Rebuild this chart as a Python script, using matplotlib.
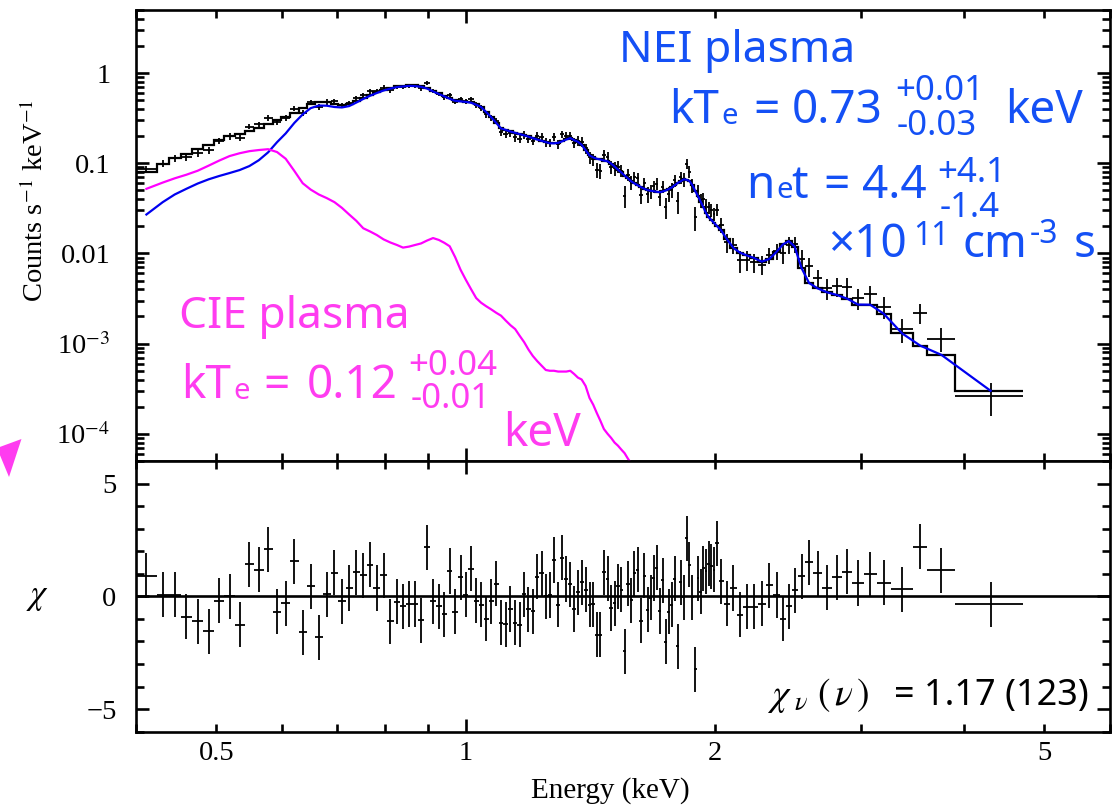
import numpy as np
import matplotlib.pyplot as plt
from matplotlib.ticker import FixedLocator, FixedFormatter, NullFormatter
from matplotlib.patches import Polygon

plt.rcParams['font.family'] = ['Liberation Serif', 'DejaVu Serif']
plt.rcParams['mathtext.fontset'] = 'stix'

# spectral bin edges (keV)
edges = np.array([
    0.400, 0.4235, 0.4382, 0.4527, 0.4674, 0.4822, 0.4969, 0.5115, 0.5262, 0.5410,
    0.5555, 0.5702, 0.5849, 0.5992, 0.6138, 0.6288, 0.6429, 0.6574, 0.6726, 0.6873,
    0.7018, 0.7163, 0.7308, 0.7451, 0.7598, 0.7740, 0.7885, 0.8040, 0.8192, 0.8334,
    0.8474, 0.8617, 0.8762, 0.8911, 0.9060, 0.9212, 0.9358, 0.9497, 0.9640, 0.9789,
    0.9933, 1.0082, 1.0230, 1.0369, 1.0514, 1.0661, 1.0811, 1.0963, 1.1110, 1.1255,
    1.1404, 1.1552, 1.1697, 1.1839, 1.1982, 1.2130, 1.2279, 1.2427, 1.2571, 1.2711,
    1.2861, 1.3012, 1.3157, 1.3305, 1.3454, 1.3597, 1.3735, 1.3883, 1.4039, 1.4190,
    1.4334, 1.4474, 1.4616, 1.4766, 1.4918, 1.5063, 1.5202, 1.5345, 1.5489, 1.5632,
    1.5779, 1.5919, 1.6059, 1.6208, 1.6360, 1.6513, 1.6660, 1.6807, 1.6954, 1.7097,
    1.7240, 1.7385, 1.7531, 1.7677, 1.7824, 1.7975, 1.8118, 1.8263, 1.8417, 1.8564,
    1.8712, 1.8868, 1.9016, 1.9157, 1.9301, 1.9444, 1.9588, 1.9737, 1.9883, 2.0029,
    2.0208, 2.0492, 2.0868, 2.1249, 2.1645, 2.2070, 2.2536, 2.3043, 2.3519, 2.3960,
    2.4383, 2.4751, 2.5183, 2.5713, 2.6267, 2.6945, 2.7732, 2.8492, 2.9299, 3.0252,
    3.1352, 3.26, 3.47, 3.61, 3.90, 4.71,
])

# NEI component folded through the response (counts/s/keV)
nei = np.array([
    0.027, 0.037, 0.045, 0.052, 0.0595, 0.0663, 0.0722, 0.0778, 0.084, 0.093,
    0.108, 0.132, 0.171, 0.214, 0.28, 0.348, 0.408, 0.436, 0.434, 0.42,
    0.415, 0.43, 0.47, 0.516, 0.56, 0.60, 0.64, 0.672, 0.699, 0.71,
    0.72, 0.716, 0.704, 0.672, 0.625, 0.586, 0.55, 0.518, 0.492, 0.485,
    0.478, 0.468, 0.445, 0.42, 0.37, 0.325, 0.28, 0.243, 0.234, 0.2245,
    0.217, 0.21, 0.204, 0.197, 0.19, 0.183, 0.177, 0.171, 0.1665, 0.166,
    0.168, 0.175, 0.183, 0.19, 0.18, 0.173, 0.16, 0.14, 0.122, 0.116,
    0.112, 0.110, 0.107, 0.105, 0.099, 0.092, 0.085, 0.079, 0.073, 0.068,
    0.063, 0.0598, 0.057, 0.0545, 0.052, 0.0504, 0.0495, 0.0488, 0.0482, 0.0477,
    0.0487, 0.050, 0.0518, 0.054, 0.0573, 0.0606, 0.063, 0.0662, 0.0655, 0.0635,
    0.057, 0.049, 0.043, 0.0374, 0.0325, 0.028, 0.0251, 0.0234, 0.0218, 0.0201,
    0.0180, 0.0144, 0.0115, 0.0102, 0.0095, 0.0089, 0.0081, 0.0087, 0.0104, 0.0126,
    0.0137, 0.0119, 0.0069, 0.0047, 0.0041, 0.0037, 0.00345, 0.00315, 0.00271, 0.0027,
    0.00215, 0.0013, 0.00095, 0.00075, 0.0003,
])

# CIE component, only where it is above the plotted range
cie = np.array([
    0.052, 0.061, 0.068, 0.0745, 0.0825, 0.094, 0.107, 0.12, 0.129, 0.136,
    0.140, 0.143, 0.133, 0.112, 0.082, 0.060, 0.051, 0.045, 0.041, 0.037,
    0.032, 0.027, 0.023, 0.019, 0.0175, 0.0160, 0.0143, 0.0132, 0.0124, 0.0116,
    0.0119, 0.0124, 0.0129, 0.0139, 0.0148, 0.0141, 0.0131, 0.012, 0.0091, 0.0066,
    0.0051, 0.0040, 0.0032, 0.00284, 0.0026, 0.0024, 0.0022, 0.00204, 0.0018, 0.0016,
    0.00145, 0.00122, 0.00104, 0.00086, 0.00073, 0.00064, 0.00057, 0.00051, 0.0005, 0.0005,
    0.00049, 0.00049, 0.00049, 0.0005, 0.00046, 0.00042, 0.0004, 0.00034, 0.00025, 0.00021,
    0.00017, 0.00014, 0.000113, 0.0001, 0.00009, 0.00008, 0.000074, 0.000067, 0.000061, 0.000053,
    0.000047, 0.000043, 0.000039, 0.000033,
])

# 1-sigma uncertainty of each bin, as a fraction of the model
rel_err = np.array([
    0.09, 0.09, 0.09, 0.085, 0.085, 0.085, 0.08, 0.08, 0.08, 0.08,
    0.075, 0.075, 0.075, 0.07, 0.07, 0.07, 0.065, 0.065, 0.065, 0.065,
    0.065, 0.06, 0.06, 0.06, 0.058, 0.058, 0.058, 0.055, 0.055, 0.055,
    0.055, 0.055, 0.055, 0.055, 0.058, 0.058, 0.06, 0.06, 0.062, 0.062,
    0.062, 0.065, 0.065, 0.068, 0.07, 0.075, 0.08, 0.085, 0.09, 0.09,
    0.095, 0.095, 0.1, 0.1, 0.1, 0.105, 0.105, 0.11, 0.11, 0.11,
    0.11, 0.11, 0.11, 0.11, 0.115, 0.12, 0.125, 0.13, 0.14, 0.14,
    0.145, 0.145, 0.15, 0.15, 0.155, 0.16, 0.16, 0.165, 0.165, 0.17,
    0.17, 0.17, 0.17, 0.17, 0.175, 0.175, 0.175, 0.175, 0.18, 0.18,
    0.18, 0.17, 0.17, 0.17, 0.17, 0.17, 0.17, 0.17, 0.2, 0.19,
    0.17, 0.15, 0.18, 0.19, 0.2, 0.2, 0.2, 0.21, 0.22, 0.22,
    0.22, 0.22, 0.22, 0.22, 0.22, 0.22, 0.22, 0.22, 0.2, 0.2,
    0.2, 0.22, 0.3, 0.35, 0.3, 0.3, 0.3, 0.33, 0.3, 0.32,
    0.33, 0.33, 0.6, 0.45, 0.35,
])

# residuals (data - model) / sigma
chi = np.array([
    0.91, 0.07, 0.07, -0.91, -1.10, -1.55, -0.19, 0.00, -1.25, 1.42,
    1.18, 2.09, -0.69, -0.30, 1.55, -1.59, 0.44, -1.81, 0.10, 1.05,
    -0.22, 0.37, 1.06, 0.94, 1.40, 0.37, 0.94, -1.10, -0.24, -0.44,
    -0.34, -0.34, -1.06, 2.18, -0.22, -0.44, -0.80, 1.12, -0.69, 0.84,
    0.07, 1.22, -0.19, -0.37, -0.99, -0.22, 0.56, -1.18, -1.24, -0.56,
    -1.18, -1.25, 0.09, -0.58, -0.66, 0.86, 1.02, 0.00, 0.06, 1.61,
    -0.38, 1.71, 0.77, 0.53, -0.56, 0.18, 0.62, 0.29, -0.38, -0.35,
    -1.70, -1.70, 1.06, 0.78, -0.52, -0.30, 0.44, 0.29, -2.43, 0.55,
    -0.18, 1.02, 1.17, -1.08, 0.91, -0.60, -0.06, 0.81, 1.27, -0.65,
    0.71, -2.02, -0.68, -0.37, 0.78, -2.21, 0.62, -0.04, 2.57, 1.40,
    -0.04, -3.23, 0.80, 0.21, 1.25, 1.11, 1.45, 1.34, 1.18, 2.36,
    0.66, -0.32, 0.37, -0.81, -0.46, -0.46, -0.32, 0.49, 0.06, -1.00,
    -0.44, 0.27, 0.88, 1.50, 1.03, 0.38, 0.84, 1.09, 0.59, 0.97,
    0.60, 0.32, 2.20, 1.15, -0.35,
])

lo, hi = edges[:-1], edges[1:]
energy = 0.5 * (lo + hi)
half_width = 0.5 * (hi - lo)

cie_all = np.zeros_like(nei)
cie_all[:len(cie)] = cie
model = nei + cie_all
sigma = rel_err * model
counts = model + chi * sigma

blue_line = '#0000f0'
magenta_line = '#ff00ff'
blue_text = '#1450f5'
magenta_text = '#ff3cf0'
sans = ['Noto Sans', 'DejaVu Sans']

fig = plt.figure(figsize=(11.12, 8.10), dpi=100)
ax1 = fig.add_axes([0.1223, 0.4309, 0.8759, 0.5568])
ax2 = fig.add_axes([0.1223, 0.0967, 0.8759, 0.3342], sharex=ax1)

# ---- spectrum ----
ax1.errorbar(energy, counts, xerr=half_width, yerr=sigma, fmt='none',
             ecolor='black', elinewidth=1.3, capsize=0, zorder=2)
ax1.stairs(model, edges, baseline=None, color='black', lw=1.6, zorder=3)
ax1.plot(energy, nei, color=blue_line, lw=1.6, zorder=4)
ax1.plot(energy[:len(cie)], cie, color=magenta_line, lw=1.6, zorder=4)

ax1.set_xscale('log')
ax1.set_yscale('log')
ax1.set_xlim(0.4, 6.0)
ax1.set_ylim(5e-5, 5)

ax1.yaxis.set_major_locator(FixedLocator([1e-4, 1e-3, 1e-2, 1e-1, 1]))
ax1.yaxis.set_major_formatter(FixedFormatter(['10$^{-4}$', '10$^{-3}$', '0.01', '0.1', '1']))
ax1.yaxis.set_minor_locator(FixedLocator([k * 10.0 ** e for e in range(-5, 1) for k in range(2, 10)]))
ax1.yaxis.set_minor_formatter(NullFormatter())

# ---- residuals ----
ax2.errorbar(energy, chi, xerr=half_width, yerr=1.0, fmt='none',
             ecolor='black', elinewidth=1.3, capsize=0, zorder=2)
ax2.axhline(0, color='black', lw=1.9, zorder=3)
ax2.set_ylim(-6, 6)
ax2.yaxis.set_major_locator(FixedLocator([-5, 0, 5]))
ax2.yaxis.set_major_formatter(FixedFormatter(['\u22125', '0', '5']))
ax2.yaxis.set_minor_locator(FixedLocator(range(-6, 7)))
ax2.yaxis.set_minor_formatter(NullFormatter())

# energy axis: decade tick long, others short with a few labels
x_minor = [0.4, 0.5, 0.6, 0.7, 0.8, 0.9, 2, 3, 4, 5, 6]
x_minor_lbl = ['', '0.5', '', '', '', '', '2', '', '', '5', '']
for ax in (ax1, ax2):
    ax.xaxis.set_major_locator(FixedLocator([1.0]))
    ax.xaxis.set_major_formatter(FixedFormatter(['1']))
    ax.xaxis.set_minor_locator(FixedLocator(x_minor))
    ax.xaxis.set_minor_formatter(FixedFormatter(x_minor_lbl))
    ax.tick_params(which='both', direction='in', top=True, right=True,
                   width=1.9, labelsize=20.5)
    ax.tick_params(which='major', length=9.5)
    ax.tick_params(which='minor', length=5.5)
    for s in ax.spines.values():
        s.set_linewidth(1.9)

ax1.tick_params(axis='x', which='both', labelbottom=False)
ax1.tick_params(axis='y', which='both', pad=18.5)
ax2.tick_params(axis='y', which='both', pad=14)
ax2.tick_params(axis='x', which='both', pad=7)

fig.text(0.0315, 0.7519, r'Counts s$^{-1}$ keV$^{-1}$', rotation=90,
         ha='center', va='center', fontsize=20.5)
fig.text(0.5486, 0.0235, 'Energy (keV)', ha='center', va='center', fontsize=21)
fig.text(0.0342, 0.263, r'$\chi$', ha='center', va='center', fontsize=25)

# ---- fit parameter labels ----
def put(ax, x, y, s, color, size):
    ax.text(x, y, s, transform=ax.transAxes, color=color, fontsize=size,
            family=sans, ha='left', va='baseline')

big, small = 33, 25
put(ax1, 0.4959, 0.8847, 'NEI plasma', blue_text, 32)
put(ax1, 0.5472, 0.7494, 'kT', blue_text, big)
put(ax1, 0.6006, 0.7472, 'e', blue_text, 21)
put(ax1, 0.6335, 0.7494, '=', blue_text, big)
put(ax1, 0.6735, 0.7494, '0.73', blue_text, big)
put(ax1, 0.7793, 0.8004, '+0.01', blue_text, small)
put(ax1, 0.7813, 0.7228, '-0.03', blue_text, small)
put(ax1, 0.8922, 0.7494, 'keV', blue_text, big)
put(ax1, 0.6263, 0.5831, 'n', blue_text, big)
put(ax1, 0.6571, 0.5831, 'e', blue_text, 21)
put(ax1, 0.6730, 0.5831, 't', blue_text, big)
put(ax1, 0.7053, 0.5831, '=', blue_text, big)
put(ax1, 0.7454, 0.5831, '4.4', blue_text, big)
put(ax1, 0.8224, 0.6186, '+4.1', blue_text, small)
put(ax1, 0.8255, 0.5410, '-1.4', blue_text, small)
put(ax1, 0.7105, 0.4523, '\u00d710', blue_text, big)
put(ax1, 0.7977, 0.4789, '11', blue_text, 23)
put(ax1, 0.8481, 0.4523, 'cm', blue_text, big)
put(ax1, 0.9178, 0.4834, '-3', blue_text, 23)
put(ax1, 0.9630, 0.4523, 's', blue_text, big)

put(ax1, 0.0441, 0.2949, 'CIE plasma', magenta_text, 32)
put(ax1, 0.0462, 0.1397, 'kT', magenta_text, big)
put(ax1, 0.0996, 0.1375, 'e', magenta_text, 21)
put(ax1, 0.1304, 0.1397, '=', magenta_text, big)
put(ax1, 0.1756, 0.1397, '0.12', magenta_text, big)
put(ax1, 0.2793, 0.1907, '+0.04', magenta_text, small)
put(ax1, 0.2824, 0.1175, '-0.01', magenta_text, small)
put(ax1, 0.3768, 0.0333, 'keV', magenta_text, big)

ax2.text(0.6478, 0.0986, r'$\chi_{\ \nu}\ (\,\nu\,)$', transform=ax2.transAxes,
         fontsize=27, ha='left', va='baseline')
ax2.text(0.9784, 0.0986, '= 1.17 (123)', transform=ax2.transAxes,
         fontsize=26, family=sans, ha='right', va='baseline')

# arrow tip at the left margin
fig.add_artist(Polygon([(-0.0027, 0.4469), (0.0193, 0.4580), (0.0081, 0.4111)],
                       closed=True, transform=fig.transFigure,
                       facecolor=magenta_text, edgecolor='none', clip_on=False))

fig.savefig('out.png', dpi=100)
